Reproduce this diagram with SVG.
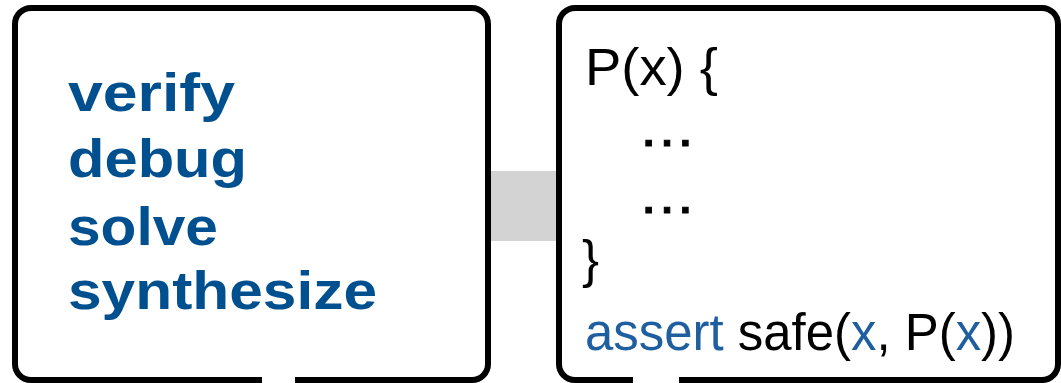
<svg xmlns="http://www.w3.org/2000/svg" width="1061" height="383" viewBox="0 0 1061 383">
  <style>
    .box { fill: #ffffff; stroke: #000000; stroke-width: 6; }
    .gap { fill: #ffffff; }
    .bar { fill: #d3d3d3; }
    .kw { font-family: "Liberation Sans", Arial, sans-serif; font-weight: bold; font-size: 53px; fill: #00508f; }
    .code { font-family: "Liberation Sans", Arial, sans-serif; font-size: 51px; fill: #000000; }
    .dots { font-family: "Liberation Sans", Arial, sans-serif; font-size: 54px; fill: #000000; stroke: #000000; stroke-width: 1; }
    .blue { fill: #1f5fa0; }
  </style>
  <g id="connectors">
    <rect class="bar" x="488" y="171" width="71" height="70"/>
  </g>
  <g id="node-tasks">
    <rect class="box" x="15" y="8" width="473" height="372" rx="16" ry="16"/>
    <rect class="gap" x="262" y="375" width="33" height="8"/>
    <text class="kw" x="68" y="111" textLength="167" lengthAdjust="spacingAndGlyphs">verify</text>
    <text class="kw" x="68" y="177" textLength="179" lengthAdjust="spacingAndGlyphs">debug</text>
    <text class="kw" x="68" y="245" textLength="150" lengthAdjust="spacingAndGlyphs">solve</text>
    <text class="kw" x="68" y="309" textLength="309" lengthAdjust="spacingAndGlyphs">synthesize</text>
  </g>
  <g id="node-program">
    <rect class="box" x="559" y="8" width="499" height="372" rx="16" ry="16"/>
    <rect class="gap" x="633" y="375" width="46" height="8"/>
    <text class="code" x="585" y="85" textLength="133" lengthAdjust="spacingAndGlyphs">P(x) {</text>
    <text class="dots" x="638" y="146" textLength="58" lengthAdjust="spacingAndGlyphs">…</text>
    <text class="dots" x="638" y="213" textLength="58" lengthAdjust="spacingAndGlyphs">…</text>
    <text class="code" x="582" y="277">}</text>
    <text class="code" x="585" y="350" textLength="430" lengthAdjust="spacingAndGlyphs"><tspan class="blue">assert</tspan> safe(<tspan class="blue">x</tspan>, P(<tspan class="blue">x</tspan>))</text>
  </g>
</svg>
